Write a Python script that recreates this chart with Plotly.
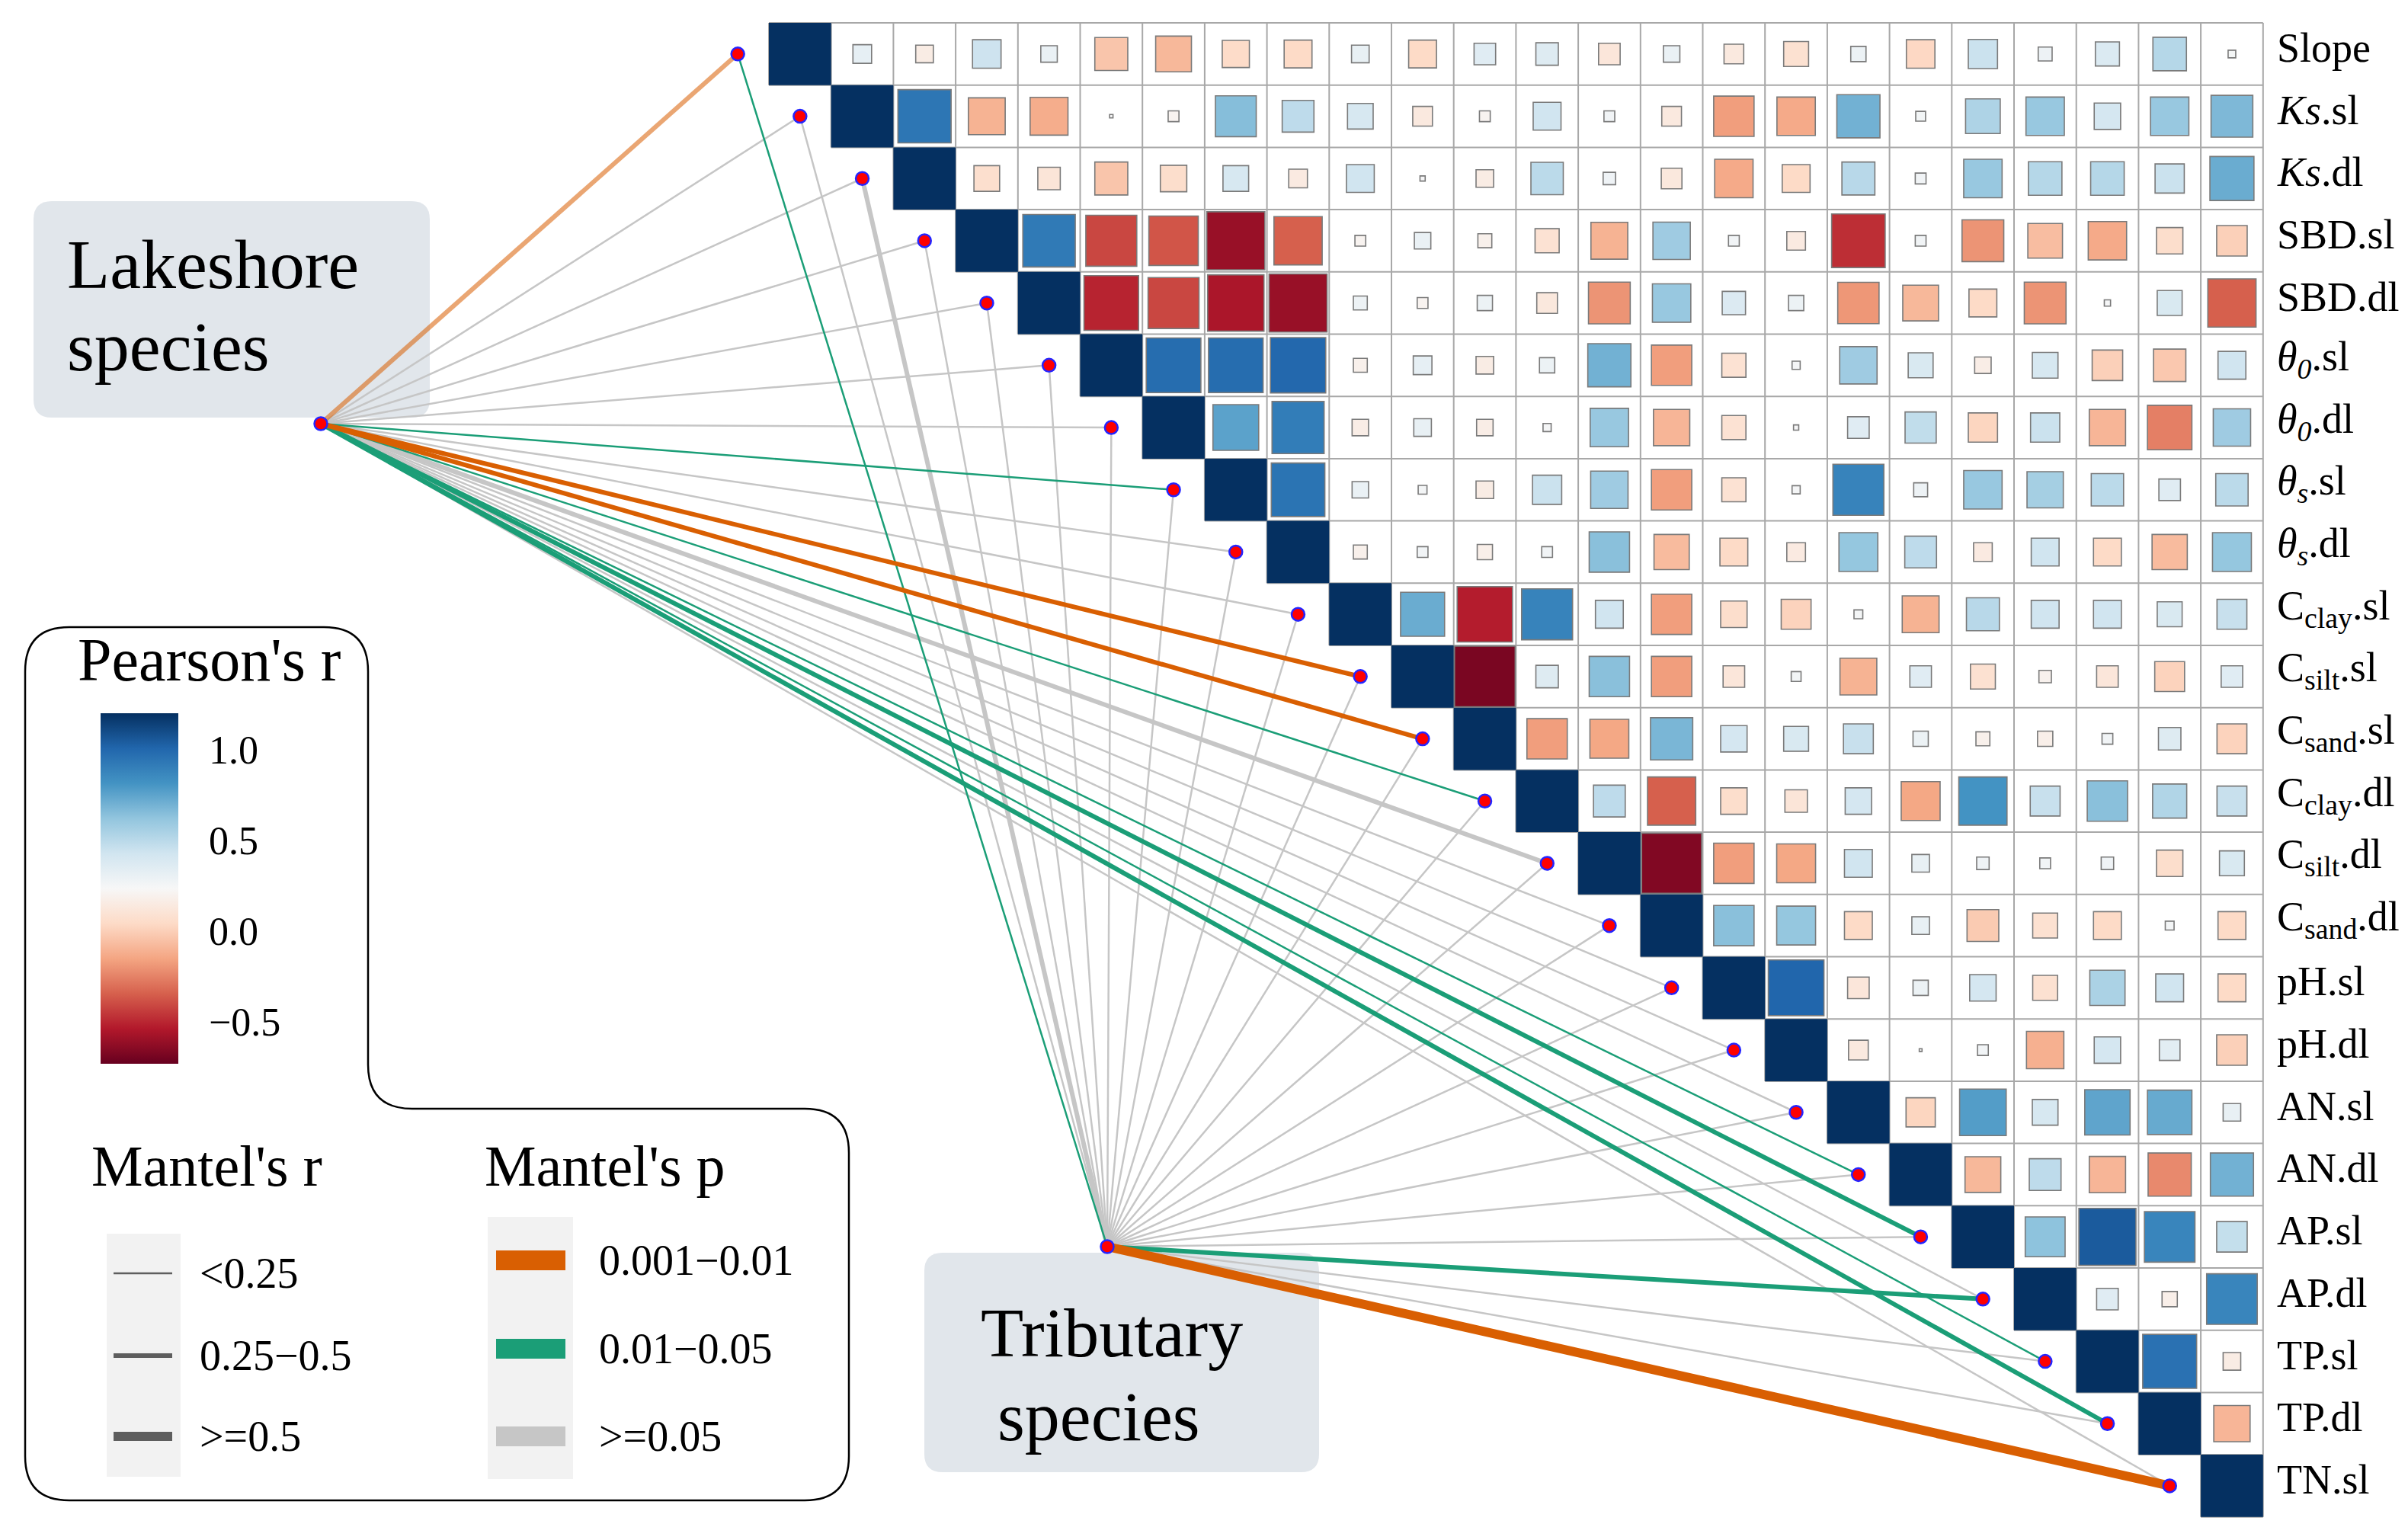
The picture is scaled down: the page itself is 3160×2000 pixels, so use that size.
import math
import plotly.graph_objects as go
from plotly.colors import sample_colorscale

# ---------------- data ----------------
variables = ['Slope', 'Ks.sl', 'Ks.dl', 'SBD.sl', 'SBD.dl', 'θ0.sl', 'θ0.dl', 'θs.sl', 'θs.dl',
             'Cclay.sl', 'Csilt.sl', 'Csand.sl', 'Cclay.dl', 'Csilt.dl', 'Csand.dl',
             'pH.sl', 'pH.dl', 'AN.sl', 'AN.dl', 'AP.sl', 'AP.dl', 'TP.sl', 'TP.dl', 'TN.sl']
var_labels = ['Slope', '<i>Ks</i>.sl', '<i>Ks</i>.dl', 'SBD.sl', 'SBD.dl',
              '<i>θ<sub>0</sub></i>.sl', '<i>θ<sub>0</sub></i>.dl',
              '<i>θ<sub>s</sub></i>.sl', '<i>θ<sub>s</sub></i>.dl',
              'C<sub>clay</sub>.sl', 'C<sub>silt</sub>.sl', 'C<sub>sand</sub>.sl',
              'C<sub>clay</sub>.dl', 'C<sub>silt</sub>.dl', 'C<sub>sand</sub>.dl',
              'pH.sl', 'pH.dl', 'AN.sl', 'AN.dl', 'AP.sl', 'AP.dl', 'TP.sl', 'TP.dl', 'TN.sl']

# Pearson's r, upper triangle: row i holds r for columns i+1 .. 23
r_upper = [
    [0.09, -0.08, 0.21, 0.07, -0.28, -0.33, -0.19, -0.20, 0.08, -0.20, 0.12, 0.13, -0.12, 0.07, -0.10, -0.16, 0.06, -0.21, 0.22, 0.05, 0.15, 0.29, 0.015],
    [0.73, -0.35, -0.37, 0.003, -0.03, 0.43, 0.26, 0.17, -0.10, -0.03, 0.20, 0.03, -0.10, -0.42, -0.38, 0.48, 0.025, 0.31, 0.38, 0.18, 0.38, 0.45],
    [-0.17, -0.13, -0.28, -0.18, 0.17, -0.09, 0.20, 0.007, -0.08, 0.27, 0.04, -0.11, -0.38, -0.20, 0.28, 0.03, 0.38, 0.29, 0.29, 0.22, 0.50],
    [0.71, -0.67, -0.63, -0.87, -0.60, -0.03, 0.07, -0.05, -0.15, -0.35, 0.36, 0.03, -0.09, -0.74, 0.03, -0.45, -0.31, -0.38, -0.18, -0.24],
    [-0.77, -0.67, -0.82, -0.87, 0.05, -0.03, 0.06, -0.11, -0.45, 0.38, 0.14, 0.06, -0.44, -0.33, -0.20, -0.45, 0.01, 0.16, -0.60],
    [0.77, 0.77, 0.79, -0.05, 0.09, -0.08, 0.06, 0.48, -0.42, -0.15, 0.017, 0.36, 0.16, -0.07, 0.17, -0.24, -0.27, 0.20],
    [0.54, 0.70, -0.07, 0.08, -0.07, 0.017, 0.38, -0.34, -0.15, 0.007, 0.12, 0.25, -0.22, 0.22, -0.34, -0.51, 0.36],
    [0.74, 0.07, 0.02, -0.08, 0.22, 0.36, -0.42, -0.15, 0.017, 0.67, 0.05, 0.38, 0.34, 0.27, 0.12, 0.27],
    [-0.05, 0.03, -0.06, 0.03, 0.42, -0.32, -0.20, -0.09, 0.39, 0.26, -0.09, 0.20, -0.20, -0.32, 0.39],
    [0.50, -0.79, 0.67, 0.20, -0.42, -0.18, -0.23, 0.02, -0.35, 0.28, 0.20, 0.20, 0.16, 0.23],
    [-0.95, 0.13, 0.42, -0.42, -0.12, 0.025, -0.35, 0.12, -0.16, -0.04, -0.12, -0.23, 0.12],
    [-0.42, -0.39, 0.46, 0.18, 0.16, 0.23, 0.06, -0.05, -0.06, 0.03, 0.13, -0.23],
    [0.26, -0.60, -0.18, -0.13, 0.18, -0.39, 0.60, 0.23, 0.42, 0.30, 0.23],
    [-0.93, -0.42, -0.39, 0.20, 0.08, 0.04, 0.03, 0.04, -0.18, 0.16],
    [0.42, 0.39, -0.20, 0.08, -0.26, -0.16, -0.20, 0.02, -0.20],
    [0.80, -0.12, 0.06, 0.18, -0.16, 0.32, 0.20, -0.20],
    [-0.10, 0.002, 0.03, -0.36, 0.18, 0.11, -0.24],
    [-0.22, 0.56, 0.17, 0.53, 0.51, 0.08],
    [-0.33, 0.26, -0.34, -0.48, 0.48],
    [0.41, 0.84, 0.66, 0.24],
    [0.12, -0.06, 0.66],
    [0.75, -0.08],
    [-0.34],
]

mantel_r_classes = ['<0.25', '0.25−0.5', '>=0.5']
mantel_p_classes = ['0.001−0.01', '0.01−0.05', '>=0.05']

# Mantel test classes for each environmental variable
lake_mantel_r = ['0.25−0.5', '<0.25', '<0.25', '<0.25', '<0.25', '<0.25', '<0.25', '<0.25', '<0.25',
                 '<0.25', '0.25−0.5', '0.25−0.5', '<0.25', '0.25−0.5', '<0.25', '<0.25', '<0.25',
                 '<0.25', '<0.25', '0.25−0.5', '<0.25', '<0.25', '0.25−0.5', '<0.25']
lake_mantel_p = ['0.001−0.01', '>=0.05', '>=0.05', '>=0.05', '>=0.05', '>=0.05', '>=0.05', '0.01−0.05', '>=0.05',
                 '>=0.05', '0.001−0.01', '0.001−0.01', '0.01−0.05', '>=0.05', '>=0.05', '>=0.05', '>=0.05',
                 '>=0.05', '0.01−0.05', '0.01−0.05', '>=0.05', '0.01−0.05', '0.01−0.05', '>=0.05']
trib_mantel_r = ['<0.25', '<0.25', '0.25−0.5', '<0.25', '<0.25', '<0.25', '<0.25', '<0.25', '<0.25',
                 '<0.25', '<0.25', '<0.25', '<0.25', '<0.25', '<0.25', '<0.25', '<0.25',
                 '<0.25', '<0.25', '<0.25', '0.25−0.5', '<0.25', '<0.25', '>=0.5']
trib_mantel_p = ['0.01−0.05', '>=0.05', '>=0.05', '>=0.05', '>=0.05', '>=0.05', '>=0.05', '>=0.05', '>=0.05',
                 '>=0.05', '>=0.05', '>=0.05', '>=0.05', '>=0.05', '>=0.05', '>=0.05', '>=0.05',
                 '>=0.05', '>=0.05', '>=0.05', '0.01−0.05', '>=0.05', '>=0.05', '0.001−0.01']

species_groups = ['Lakeshore species', 'Tributary species']
colorbar_ticks = [-0.5, 0.0, 0.5, 1.0]
colorbar_ticktext = ['−0.5', '0.0', '0.5', '1.0']

# ---------------- styles / layout ----------------
W, H = 3160, 2000
X0, Y0, CELL = 1001, 22, 81.7
FONT = 'Liberation Serif, Times New Roman, serif'
n = len(variables)

RDBU = ['#67001F', '#B2182B', '#D6604D', '#F4A582', '#FDDBC7', '#F7F7F7',
        '#D1E5F0', '#92C5DE', '#4393C3', '#2166AC', '#053061']
rdbu_scale = [[k / (len(RDBU) - 1), c] for k, c in enumerate(RDBU)]
p_colors = {'0.001−0.01': '#D95F02', '0.01−0.05': '#1B9E77', '>=0.05': '#C6C6C6'}
r_widths = {'<0.25': 2.5, '0.25−0.5': 6, '>=0.5': 12}
edge_opacity = {('Lakeshore species', 'Slope'): 0.55}


def dx(px):
    return (px - X0) / CELL - 0.5


def dy(py):
    return (py - Y0) / CELL - 0.5


def rpath(x0, y0, x1, y1, rad):
    a, b, c, d, r = dx(x0), dy(y0), dx(x1), dy(y1), rad / CELL
    return (f'M {a+r},{b} L {c-r},{b} Q {c},{b} {c},{b+r} L {c},{d-r} Q {c},{d} {c-r},{d} '
            f'L {a+r},{d} Q {a},{d} {a},{d-r} L {a},{b+r} Q {a},{b} {a+r},{b} Z')


fig = go.Figure()
shapes = []
annotations = []

# label boxes (below lines)
shapes.append(dict(type='path', path=rpath(36, 256, 556, 540, 24), xref='x', yref='y',
                   fillcolor='#E1E6EB', line=dict(width=0), layer='below'))
shapes.append(dict(type='path', path=rpath(1205, 1636, 1723, 1924, 24), xref='x', yref='y',
                   fillcolor='#E1E6EB', line=dict(width=0), layer='below'))

# grid of the upper triangle
gx, gy = [], []
for k in range(n + 1):
    gx += [max(k - 1, 0) - 0.5, n - 0.5, None]
    gy += [k - 0.5, k - 0.5, None]
    gx += [k - 0.5, k - 0.5, None]
    gy += [-0.5, min(k, n - 1) + 0.5, None]
fig.add_trace(go.Scatter(x=gx, y=gy, mode='lines', line=dict(color='#A8A8A8', width=2),
                         hoverinfo='skip', showlegend=False))

# Mantel links
nodes = {'Lakeshore species': (dx(413), dy(548)), 'Tributary species': (dx(1445), dy(1628))}
edges = []
for grp, rc, pcl in [('Lakeshore species', lake_mantel_r, lake_mantel_p),
                     ('Tributary species', trib_mantel_r, trib_mantel_p)]:
    for i, v in enumerate(variables):
        edges.append((grp, v, i, rc[i], pcl[i]))
order = {'>=0.05': 0, '0.01−0.05': 1, '0.001−0.01': 2}
edges.sort(key=lambda e: (order[e[4]], r_widths[e[3]]))
for grp, v, i, rc, pcl in edges:
    sx, sy = nodes[grp]
    fig.add_trace(go.Scatter(x=[sx, i - 1], y=[sy, i], mode='lines',
                             line=dict(color=p_colors[pcl], width=r_widths[rc]),
                             opacity=edge_opacity.get((grp, v), 1.0),
                             hoverinfo='skip', showlegend=False))

# link end points
fig.add_trace(go.Scatter(x=[i - 1 for i in range(n)] + [nodes[g][0] for g in species_groups],
                         y=[i for i in range(n)] + [nodes[g][1] for g in species_groups],
                         mode='markers',
                         marker=dict(size=17, color='#FF0000', line=dict(color='#2424FF', width=2.5)),
                         hoverinfo='skip', showlegend=False))

# correlation squares
for i in range(n):
    for j in range(i, n):
        r = 1.0 if i == j else r_upper[i][j - i - 1]
        col = sample_colorscale(rdbu_scale, [(r + 1) / 2])[0]
        s = math.sqrt(abs(r)) / 2
        shapes.append(dict(type='rect', xref='x', yref='y', x0=j - s, x1=j + s, y0=i - s, y1=i + s,
                           fillcolor=col,
                           line=dict(color=col if i == j else '#7A7A7A', width=0 if i == j else 1.6),
                           layer='above'))

# row labels on the right
for i, lab in enumerate(var_labels):
    annotations.append(dict(x=n - 0.5, y=i, xref='x', yref='y', text=lab, showarrow=False,
                            xanchor='left', yanchor='middle', xshift=16, yshift=8,
                            font=dict(family=FONT, size=54, color='black')))

# group labels
for txt, px, py, anc in [('Lakeshore', 78, 339, 'left'), ('species', 78, 447, 'left'),
                         ('Tributary', 1451, 1741, 'center'), ('species', 1434, 1851, 'center')]:
    annotations.append(dict(x=dx(px), y=dy(py), xref='x', yref='y', text=txt, showarrow=False,
                            xanchor=anc, yanchor='middle',
                            font=dict(family=FONT, size=92, color='black')))

# legend outline (L shape)
R = 58 / CELL
L, T, M, S, RR, B = dx(25), dy(815), dx(475), dy(1447), dx(1106), dy(1961)
lpath = (f'M {L+R},{T} L {M-R},{T} Q {M},{T} {M},{T+R} L {M},{S-R} Q {M},{S} {M+R},{S} '
         f'L {RR-R},{S} Q {RR},{S} {RR},{S+R} L {RR},{B-R} Q {RR},{B} {RR-R},{B} '
         f'L {L+R},{B} Q {L},{B} {L},{B-R} L {L},{T+R} Q {L},{T} {L+R},{T} Z')
shapes.append(dict(type='path', path=lpath, xref='x', yref='y', line=dict(color='black', width=2.5),
                   fillcolor='rgba(0,0,0,0)', layer='above'))

# legend titles
for txt, px, py, fs in [("Pearson's r", 92, 858, 80), ("Mantel's r", 110, 1522, 76),
                        ("Mantel's p", 626, 1522, 76)]:
    annotations.append(dict(x=dx(px), y=dy(py), xref='x', yref='y', text=txt, showarrow=False,
                            xanchor='left', yanchor='middle',
                            font=dict(family=FONT, size=fs, color='black')))

# Pearson colour bar (dummy trace)
cbar = dict(thickness=102, thicknessmode='pixels', len=460, lenmode='pixels',
            x=124 / W, xanchor='left', y=1 - 1158 / H, yanchor='middle',
            xpad=0, ypad=0, outlinewidth=0,
            tickvals=colorbar_ticks, ticktext=colorbar_ticktext,
            ticks='outside', ticklen=30, tickcolor='rgba(0,0,0,0)',
            tickfont=dict(family=FONT, size=52, color='black'))
fig.add_trace(go.Scatter(x=[dx(-500)], y=[dy(-500)], mode='markers', hoverinfo='skip', showlegend=False,
                         marker=dict(size=1, color=[0], colorscale=rdbu_scale, cmin=-0.73, cmax=1.2,
                                     showscale=True, colorbar=cbar)))

# Mantel's r legend
shapes.append(dict(type='rect', xref='x', yref='y', x0=dx(132), x1=dx(229), y0=dy(1611), y1=dy(1930),
                   fillcolor='#F2F2F2', line=dict(width=0), layer='below'))
for cls, py in zip(mantel_r_classes, [1663, 1771, 1877]):
    fig.add_trace(go.Scatter(x=[dx(141), dx(218)], y=[dy(py), dy(py)], mode='lines',
                             line=dict(color='#5E5E5E', width=r_widths[cls]),
                             hoverinfo='skip', showlegend=False))
    annotations.append(dict(x=dx(252), y=dy(py), xref='x', yref='y', text=cls, showarrow=False,
                            xanchor='left', yanchor='middle',
                            font=dict(family=FONT, size=56, color='black')))

# Mantel's p legend
shapes.append(dict(type='rect', xref='x', yref='y', x0=dx(632), x1=dx(744), y0=dy(1589), y1=dy(1933),
                   fillcolor='#F2F2F2', line=dict(width=0), layer='above'))
for cls, py in zip(mantel_p_classes, [1646, 1762, 1877]):
    shapes.append(dict(type='rect', xref='x', yref='y', x0=dx(643), x1=dx(734), y0=dy(py - 13), y1=dy(py + 13),
                       fillcolor=p_colors[cls], line=dict(width=0), layer='above'))
    annotations.append(dict(x=dx(776), y=dy(py), xref='x', yref='y', text=cls, showarrow=False,
                            xanchor='left', yanchor='middle',
                            font=dict(family=FONT, size=56, color='black')))

fig.update_layout(
    width=W, height=H, margin=dict(l=0, r=0, t=0, b=0),
    paper_bgcolor='white', plot_bgcolor='white',
    xaxis=dict(range=[dx(0), dx(W)], visible=False, showgrid=False, zeroline=False),
    yaxis=dict(range=[dy(H), dy(0)], visible=False, showgrid=False, zeroline=False),
    shapes=shapes, annotations=annotations, showlegend=False,
    font=dict(family=FONT),
)
fig.write_html('out.html')
